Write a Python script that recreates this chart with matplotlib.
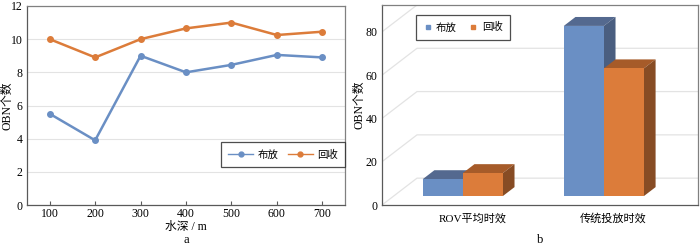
import numpy as np
import matplotlib
matplotlib.use('Agg')
import matplotlib.pyplot as plt
from matplotlib.patches import Polygon
from matplotlib.lines import Line2D

plt.rcParams['font.family'] = ['Liberation Serif', 'Noto Sans CJK SC']
plt.rcParams['font.size'] = 8

# panel a data
depth = [100, 200, 300, 400, 500, 600, 700]
deploy_a = [5.5, 3.9, 9.0, 8.0, 8.45, 9.05, 8.9]
recover_a = [10.0, 8.9, 10.0, 10.65, 11.0, 10.25, 10.45]

# panel b data
categories = ['ROV平均时效', '传统投放时效']
deploy_b = [7.8, 78.6]
recover_b = [10.6, 59.0]

series_labels = ['布放', '回收']
BLUE = '#6a8fc4'
ORANGE = '#dc7c3a'
SPINE = '#595959'
GRID = '#e3e3e3'

fig = plt.figure(figsize=(7, 2.46), dpi=100)

# ---------------- panel a ----------------
ax = fig.add_axes([27/700, 41/246, 318/700, 199/246])
ax.plot(depth, deploy_a, color=BLUE, lw=1.8, marker='o', ms=4, label=series_labels[0])
ax.plot(depth, recover_a, color=ORANGE, lw=1.8, marker='o', ms=4, label=series_labels[1])
ax.set_xlim(50, 750)
ax.set_ylim(0, 12)
ax.set_xticks(depth)
ax.set_yticks(range(0, 13, 2))
ax.yaxis.grid(True, color=GRID, lw=0.8)
ax.set_axisbelow(True)
ax.tick_params(axis='x', direction='in', length=3, color=SPINE, pad=2, labelsize=8.5)
ax.tick_params(axis='y', length=0, pad=3, labelsize=8.5)
for s in ax.spines.values():
    s.set_color('#808080')
    s.set_linewidth(0.9)
ax.spines['left'].set_color(SPINE)
ax.spines['bottom'].set_color(SPINE)
ax.set_xlabel('水深 / m', fontsize=8.5, va='center')
ax.xaxis.set_label_coords(0.5, -0.11)
ax.set_ylabel('OBN个数', fontsize=8.5, va='center')
ax.yaxis.set_label_coords(-0.06, 0.5)
leg = ax.legend(loc='lower right', bbox_to_anchor=(1.0, 0.19), ncol=2, frameon=True,
                fancybox=False, borderaxespad=0, fontsize=7.5, handlelength=2.4,
                handletextpad=0.4, columnspacing=0.9, borderpad=0.7)
leg.get_frame().set_edgecolor('#222222')
leg.get_frame().set_linewidth(0.9)
for h in leg.get_lines():
    h.set_linewidth(1.0)
    h.set_markersize(3.5)
fig.text(186/700, 1 - 240/246, 'a', ha='center', va='center', fontsize=9)

# ---------------- panel b ----------------
bx = fig.add_axes([382/700, 41/246, 316/700, 200/246])
Dx, Dy = 0.248, 12.4     # oblique depth offset
z1, z2 = 1/3, 2/3        # bar depth range
w = 0.284
xmin, xmax = -0.49, 1.75
bx.set_xlim(xmin, xmax)
bx.set_ylim(0, 80 + Dy)

yt = np.arange(0, 81, 20)
for t in yt:
    bx.plot([xmin, xmin + Dx, xmax], [t, t + Dy, t + Dy], color=GRID, lw=0.9, zorder=0)

pal = [(BLUE, '#54698f', '#4a5e80'), (ORANGE, '#a65b29', '#874c24')]
for i in range(len(categories)):
    for j, vals in enumerate([deploy_b, recover_b]):
        v = vals[i]
        x0 = i + (j - 1) * w
        front, top, side = pal[j]
        zo = 2 + j
        fx = x0 + z1 * Dx
        fy = z1 * Dy
        bxp = x0 + z2 * Dx
        by = z2 * Dy
        bx.add_patch(Polygon([(fx, fy + v), (fx + w, fy + v), (bxp + w, by + v), (bxp, by + v)],
                             closed=True, facecolor=top, edgecolor='none', zorder=zo))
        bx.add_patch(Polygon([(fx + w, fy), (fx + w, fy + v), (bxp + w, by + v), (bxp + w, by)],
                             closed=True, facecolor=side, edgecolor='none', zorder=zo))
        bx.bar(fx, v, width=w, bottom=fy, align='edge', color=front, zorder=zo)

bx.set_yticks(yt)
bx.set_xticks(np.arange(len(categories)) + 0.15)
bx.set_xticklabels(categories, fontsize=8)
bx.tick_params(axis='both', length=0)
bx.tick_params(axis='x', pad=6)
bx.tick_params(axis='y', pad=3, labelsize=8.5)
for s in bx.spines.values():
    s.set_color('#808080')
    s.set_linewidth(0.9)
bx.spines['left'].set_color(SPINE)
bx.spines['bottom'].set_color(SPINE)
bx.set_ylabel('OBN个数', fontsize=8.5, va='center')
bx.yaxis.set_label_coords(-0.07, 0.5)
handles = [Line2D([], [], ls='none', marker='s', ms=3, color=c) for c in (BLUE, ORANGE)]
leg2 = bx.legend(handles, series_labels, loc='upper left', bbox_to_anchor=(0.108, 0.95), ncol=2,
                 frameon=True, fancybox=False, borderaxespad=0, fontsize=7.5, handlelength=0.8,
                 handletextpad=0.4, columnspacing=1.2, borderpad=0.7)
leg2.get_frame().set_edgecolor('#222222')
leg2.get_frame().set_linewidth(0.9)
fig.text(540/700, 1 - 240/246, 'b', ha='center', va='center', fontsize=9)

fig.savefig('out.png', dpi=100)
